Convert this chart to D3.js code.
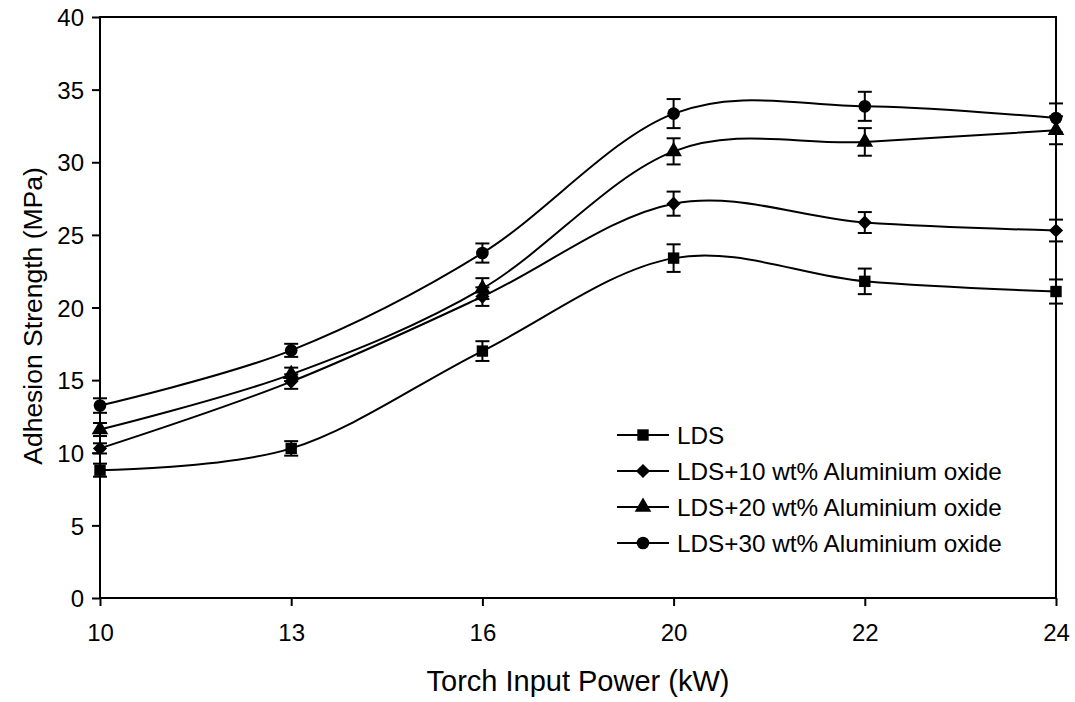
<!DOCTYPE html>
<html>
<head>
<meta charset="utf-8">
<script src="https://cdn.jsdelivr.net/npm/d3@7"></script>
<style>
  html, body { margin: 0; padding: 0; background: #fff; }
  svg { display: block; font-family: Arial, "Liberation Sans", sans-serif; }
</style>
</head>
<body>
<svg id="chart" width="1075" height="702"></svg>
<script>
// ---- data ----
const powerLabels = ["10", "13", "16", "20", "22", "24"];
const seriesNames = ["LDS", "LDS+10 wt% Aluminium oxide", "LDS+20 wt% Aluminium oxide", "LDS+30 wt% Aluminium oxide"];
const ldsValues   = [8.8, 10.3, 17.0, 23.4, 21.8, 21.1];
const ldsErrors   = [0.45, 0.5, 0.68, 0.95, 0.88, 0.83];
const lds10Values = [10.3, 14.9, 20.75, 27.15, 25.85, 25.3];
const lds10Errors = [0.35, 0.5, 0.64, 0.83, 0.72, 0.75];
const lds20Values = [11.6, 15.4, 21.3, 30.75, 31.4, 32.2];
const lds20Errors = [0.45, 0.46, 0.72, 0.9, 0.95, 0.96];
const lds30Values = [13.25, 17.05, 23.75, 33.35, 33.85, 33.05];
const lds30Errors = [0.5, 0.45, 0.66, 1.0, 1.0, 1.0];
const markerTypes = ["square", "diamond", "triangle", "circle"];
const yTicks = [0, 5, 10, 15, 20, 25, 30, 35, 40];

const allValues = [ldsValues, lds10Values, lds20Values, lds30Values];
const allErrors = [ldsErrors, lds10Errors, lds20Errors, lds30Errors];

// ---- layout ----
const svg = d3.select("#chart");
const plotL = 100, plotR = 1056, plotT = 17, plotB = 598;

const x = d3.scalePoint().domain(powerLabels).range([plotL, plotR]).padding(0);
const y = d3.scaleLinear().domain([0, 40]).range([plotB, plotT]);

// rotated-square diamond
const squareDiamond = {
  draw(context, size) {
    const r = Math.sqrt(size / 2);
    context.moveTo(0, -r);
    context.lineTo(r, 0);
    context.lineTo(0, r);
    context.lineTo(-r, 0);
    context.closePath();
  }
};

const symbolFor = {
  square: d3.symbol().type(d3.symbolSquare).size(130),
  diamond: d3.symbol().type(squareDiamond).size(100),
  triangle: d3.symbol().type(d3.symbolTriangle).size(120),
  circle: d3.symbol().type(d3.symbolCircle).size(125)
};

// ---- frame & axes ----
const g = svg.append("g");

const yAxis = d3.axisLeft(y).tickValues(yTicks).tickSize(8).tickPadding(8);
const yG = g.append("g").attr("transform", `translate(${plotL},0)`).call(yAxis);
const xAxis = d3.axisBottom(x).tickSize(8).tickPadding(18);
const xG = g.append("g").attr("transform", `translate(0,${plotB})`).call(xAxis);

[yG, xG].forEach(a => {
  a.select(".domain").remove();
  a.selectAll(".tick line").attr("stroke", "#000").attr("stroke-width", 2);
  a.selectAll(".tick text").attr("fill", "#000").style("font-size", "24px")
    .style("font-family", "Arial, 'Liberation Sans', sans-serif");
});
yG.selectAll(".tick text").attr("dy", "0.36em");

// box frame
g.append("rect")
  .attr("x", plotL).attr("y", plotT)
  .attr("width", plotR - plotL).attr("height", plotB - plotT)
  .attr("fill", "none").attr("stroke", "#000").attr("stroke-width", 2);

// axis titles
g.append("text")
  .attr("x", (plotL + plotR) / 2).attr("y", 691)
  .attr("text-anchor", "middle")
  .style("font-size", "29px")
  .text("Torch Input Power (kW)");

g.append("text")
  .attr("transform", `translate(42,316) rotate(-90)`)
  .attr("text-anchor", "middle")
  .style("font-size", "26.5px")
  .text("Adhesion Strength (MPa)");

// ---- series ----
const line = d3.line()
  .x((d, i) => x(powerLabels[i]))
  .y(d => y(d))
  .curve(d3.curveCardinal.tension(0));

allValues.forEach((vals, s) => {
  const errs = allErrors[s];
  const sg = g.append("g");
  sg.append("path")
    .attr("d", line(vals))
    .attr("fill", "none").attr("stroke", "#000").attr("stroke-width", 2);

  vals.forEach((v, i) => {
    const cx = x(powerLabels[i]);
    const y1 = y(v + errs[i]), y2 = y(v - errs[i]);
    sg.append("line").attr("x1", cx).attr("x2", cx).attr("y1", y1).attr("y2", y2)
      .attr("stroke", "#000").attr("stroke-width", 2);
    [y1, y2].forEach(yy => {
      sg.append("line").attr("x1", cx - 7).attr("x2", cx + 7).attr("y1", yy).attr("y2", yy)
        .attr("stroke", "#000").attr("stroke-width", 2);
    });
  });

  sg.selectAll("path.mk").data(vals).enter().append("path")
    .attr("class", "mk")
    .attr("d", symbolFor[markerTypes[s]]())
    .attr("transform", (d, i) => `translate(${x(powerLabels[i])},${y(d)})`)
    .attr("fill", "#000");
});

// ---- legend ----
const legend = g.append("g");
const legendY0 = 435, legendStep = 36;
seriesNames.forEach((name, i) => {
  const ly = legendY0 + i * legendStep;
  legend.append("line").attr("x1", 617).attr("x2", 669).attr("y1", ly).attr("y2", ly)
    .attr("stroke", "#000").attr("stroke-width", 2);
  legend.append("path").attr("d", symbolFor[markerTypes[i]]())
    .attr("transform", `translate(643,${ly})`).attr("fill", "#000");
  legend.append("text").attr("x", 677).attr("y", ly).attr("dy", "0.36em")
    .style("font-size", "24.3px").text(name);
});
</script>
</body>
</html>
